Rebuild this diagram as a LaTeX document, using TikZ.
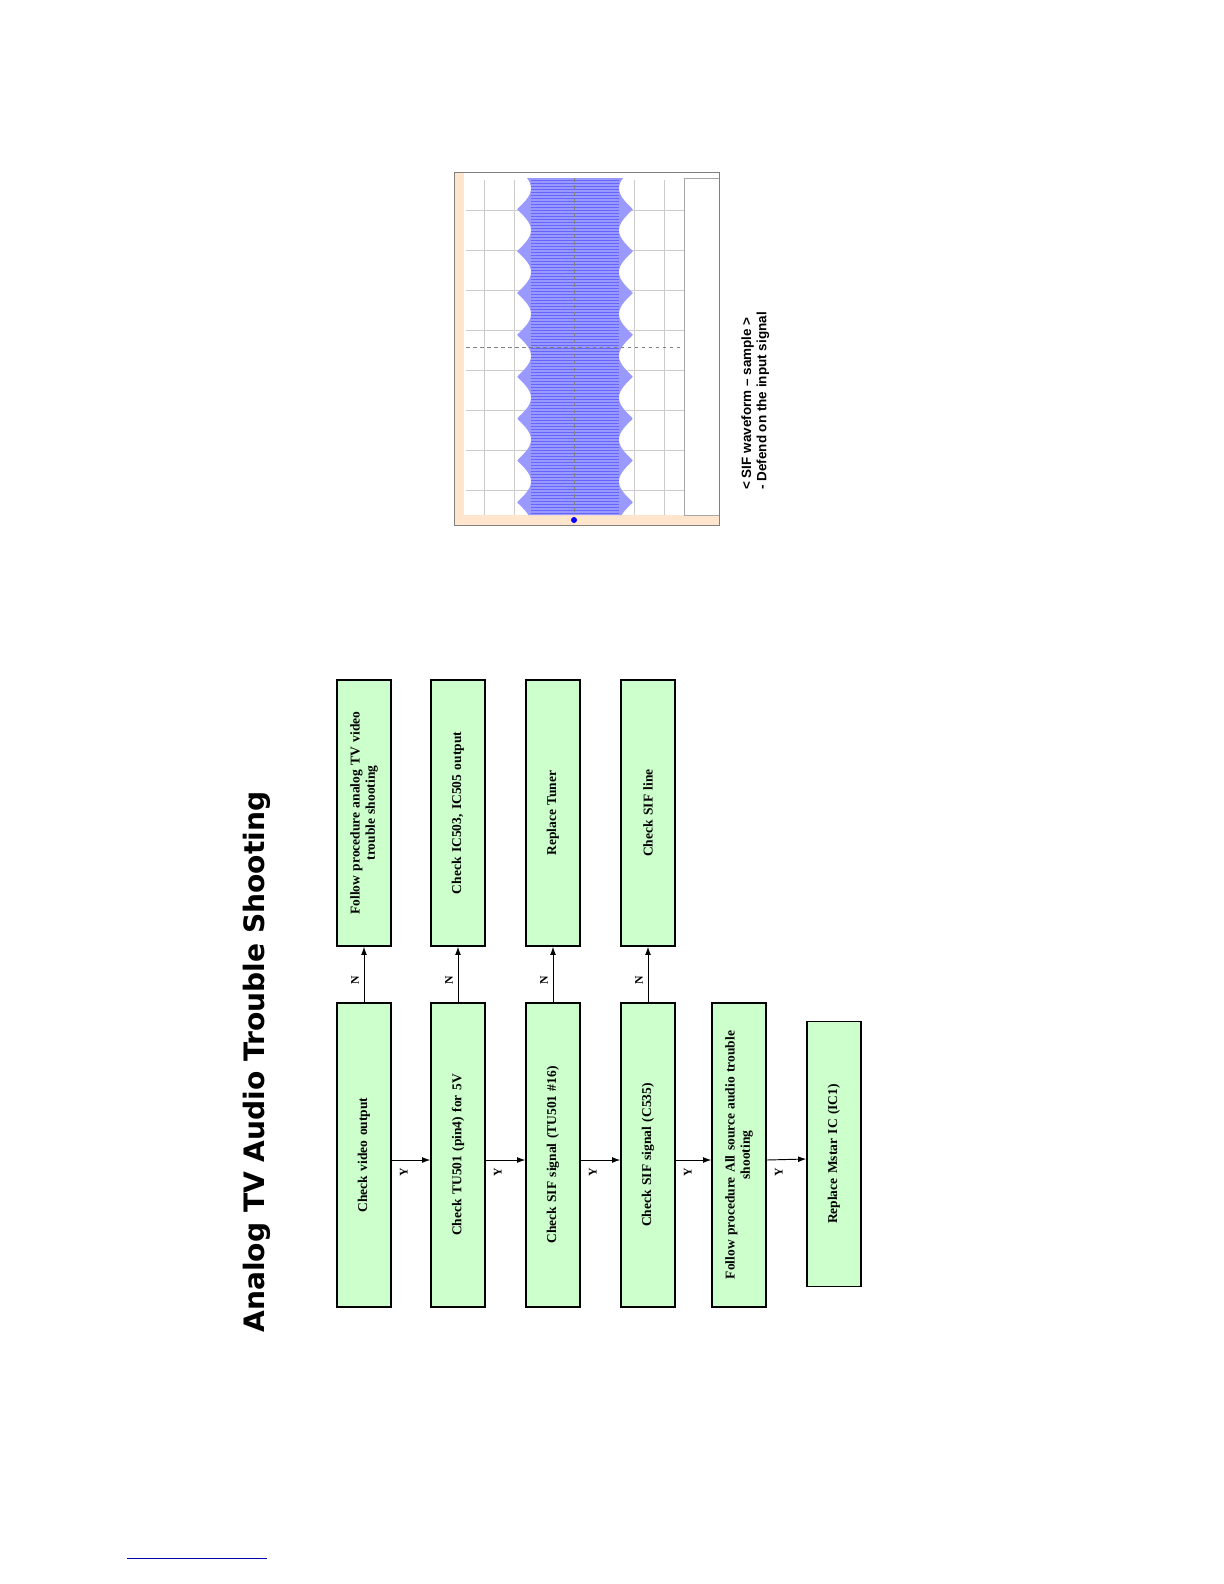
\documentclass[tikz,border=0pt]{standalone}
\usepackage{fontspec}
\setmainfont{Liberation Serif}
\newfontfamily\titlefont{DejaVu Sans}
\newfontfamily\capfont{Liberation Sans}
\usetikzlibrary{arrows.meta,calc}
\begin{document}
\begin{tikzpicture}[x=0.03cm,y=-0.03cm,thick,
    stepbox/.style={draw,line width=1.2pt,fill=green!20!white,rotate=90,minimum height=1.62cm,
        text width=7.6cm,align=center,font=\bfseries\fontsize{11.5}{13}\selectfont},
    lbl/.style={rotate=90,font=\bfseries\fontsize{10}{11}\selectfont},
    link/.style={draw,-{Latex[length=7pt,width=5pt]},line width=0.8pt}]
\useasboundingbox (0,0) rectangle (1224,1584);
\node[rotate=90,font=\titlefont\bfseries\fontsize{24}{28}\selectfont] (title) at (257,1062) {Analog TV Audio Trouble Shooting};

\begin{scope}[shift={(4,10)}]
\node[stepbox,minimum width=9.12cm] (c1) at (360,1145) {Check video output};
\node[stepbox,minimum width=9.12cm] (c2) at (454,1145) {Check TU501 (pin4) for 5V};
\node[stepbox,minimum width=9.12cm] (c3) at (549,1145) {Check SIF signal (TU501 \#16)};
\node[stepbox,minimum width=9.12cm] (c4) at (644,1145) {Check SIF signal (C535)};
\node[stepbox,minimum width=9.12cm] (c5) at (735,1145) {Follow procedure All source audio trouble\\ shooting};
\node[stepbox,minimum width=7.95cm] (c6) at (830,1144) {Replace Mstar IC (IC1)};

\node[stepbox,minimum width=7.98cm] (r1) at (360,803) {Follow procedure analog TV video\\ trouble shooting};
\node[stepbox,minimum width=7.98cm] (r2) at (454,803) {Check IC503, IC505 output};
\node[stepbox,minimum width=7.98cm] (r3) at (549,803) {Replace Tuner};
\node[stepbox,minimum width=7.98cm] (r4) at (644,803) {Check SIF line};
\end{scope}

\foreach \a/\b in {c1/c2,c2/c3,c3/c4,c4/c5,c5/c6} {
  \draw[link] ($(\a.south)+(0,-0.15cm)$) coordinate (\a-y) -- ($(\b.north)+(0,-0.15cm)$);
  \node[lbl] (\a-ylbl) at ($(\a-y)+(12,12)$) {Y};
}
\foreach \a/\b in {c1/r1,c2/r2,c3/r3,c4/r4} {
  \draw[link] (\a.east) -- (\b.west);
  \node[lbl] (\a-nlbl) at ($(\a.east)!0.5!(\b.west)+(-9,6)$) {N};
}

% waveform screenshot
\begin{scope}[shift={(4,0)}]
\fill[white] (450,172) rectangle (715,525);
\fill[orange!20] (450,172) rectangle (460,525);
\fill[orange!20] (450,515) rectangle (715,525);
\foreach \gx in {480,510,540,570,600,630,660} \draw[gray!40,thin] (\gx,180) -- (\gx,515);
\foreach \gy in {210,250,290,330,370,410,450,490} \draw[gray!40,thin] (462,\gy) -- (680,\gy);
\fill[blue!40] plot[domain=178:515,samples=300] ({513+14*abs(sin(4.3*\x))},\x)
    -- plot[domain=515:178,samples=300] ({629-14*abs(sin(4.3*\x))},\x) -- cycle;
\foreach \gy in {180,183,...,515} \draw[blue!60,very thin] (527,\gy) -- (615,\gy);
\draw[gray,dashed,thin] (570,178) -- (570,515);
\draw[gray,dashed,thin] (462,347) -- (680,347);
\fill[blue] (570,520) circle (3);
\draw[gray!70] (680,178) rectangle (715,515);
\draw[gray] (450,172) rectangle (715,525);
\end{scope}

\node[rotate=90,anchor=north west,align=left,font=\capfont\bfseries\fontsize{11.5}{13}\selectfont] (cap) at (737,494)
    {< SIF waveform – sample >\\ - Defend on the input signal};

\draw[blue!70!black,thin] (127,1558) -- (267,1558);
\end{tikzpicture}
\end{document}
